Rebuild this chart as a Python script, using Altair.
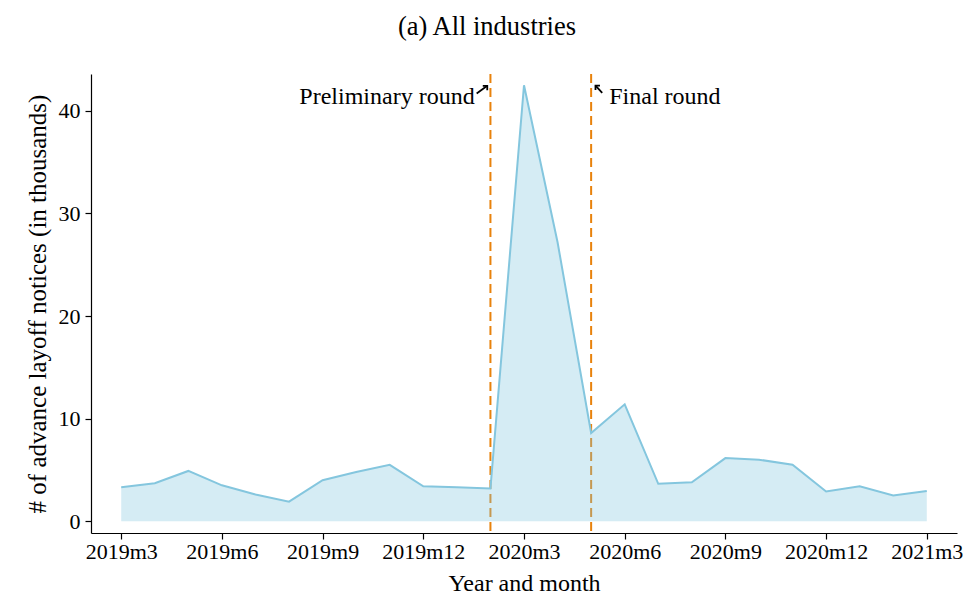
import altair as alt
import pandas as pd

months = ["2019m3", "2019m4", "2019m5", "2019m6", "2019m7", "2019m8", "2019m9",
          "2019m10", "2019m11", "2019m12", "2020m1", "2020m2", "2020m3", "2020m4",
          "2020m5", "2020m6", "2020m7", "2020m8", "2020m9", "2020m10", "2020m11",
          "2020m12", "2021m1", "2021m2", "2021m3"]
notices = [3.3, 3.7, 4.9, 3.5, 2.6, 1.9, 4.0, 4.8, 5.5, 3.4, 3.3, 3.2, 42.5, 27.2,
           8.6, 11.4, 3.65, 3.8, 6.15, 6.0, 5.5, 2.9, 3.4, 2.5, 2.95]
tick_labels = ["2019m3", "2019m6", "2019m9", "2019m12", "2020m3", "2020m6",
               "2020m9", "2020m12", "2021m3"]
y_ticks = [0, 10, 20, 30, 40]
event_months = ["2020m2", "2020m5"]
event_names = ["Preliminary round", "Final round"]
chart_title = "(a) All industries"

FONT = "Liberation Serif"
PLOT_W, PLOT_H = 866, 459
df = pd.DataFrame({"idx": list(range(len(months))), "month": months, "value": notices})
tick_vals = [months.index(m) for m in tick_labels]
label_expr = "[" + ",".join("'%s'" % t for t in tick_labels) + "][round(datum.value/3)]"

x = alt.X("idx:Q", scale=alt.Scale(domain=[-0.9, 24.9], nice=False, zero=False),
          axis=alt.Axis(values=tick_vals, labelExpr=label_expr, title="Year and month",
                        grid=False, labelPadding=2, titlePadding=9, titleFontSize=24,
                        labelFlush=False, labelOverlap=False))
y = alt.Y("value:Q", scale=alt.Scale(domain=[-1.15, 43.6], nice=False, zero=False),
          axis=alt.Axis(values=y_ticks, title="# of advance layoff notices (in thousands)",
                        grid=False, labelPadding=5, titlePadding=8, titleFontSize=25))

ev = pd.DataFrame({"idx": [months.index(m) for m in event_months], "name": event_names})
rules = alt.Chart(ev).mark_rule(color="#e8820c", strokeWidth=2, strokeDash=[9, 5]).encode(
    x=alt.X("idx:Q"))

area = alt.Chart(df).mark_area(color="#7fc4dd", opacity=0.33).encode(x=x, y=y)
line = alt.Chart(df).mark_line(color="#84c6de", strokeWidth=2).encode(x="idx:Q", y="value:Q")

txt = pd.DataFrame({"x": [10.53, 14.54], "y": [41.4, 41.4], "label": event_names})
t_left = alt.Chart(txt.iloc[[0]]).mark_text(font=FONT, fontSize=24, align="right",
                                            baseline="middle", color="black").encode(
    x="x:Q", y="y:Q", text="label:N")
t_right = alt.Chart(txt.iloc[[1]]).mark_text(font=FONT, fontSize=24, align="left",
                                             baseline="middle", color="black").encode(
    x="x:Q", y="y:Q", text="label:N")

arr = pd.DataFrame({"x": [10.59, 14.33], "y": [41.7, 41.75],
                    "x2": [10.905, 14.13], "y2": [42.45, 42.47], "ang": [45, 315]})
arrow_lines = alt.Chart(arr).mark_rule(color="black", strokeWidth=1.8).encode(
    x="x:Q", y="y:Q", x2="x2:Q", y2="y2:Q")
arrow_heads = alt.Chart(arr).mark_point(shape="M-1,1L0,0L1,1", filled=False, color="black",
                                        strokeWidth=1.8, size=40, opacity=1).encode(
    x="x2:Q", y="y2:Q", angle=alt.Angle("ang:Q", scale=None))

title_df = pd.DataFrame({"t": [chart_title]})
title = alt.Chart(title_df).mark_text(font=FONT, fontSize=26.5, align="center",
                                      baseline="alphabetic", color="black").encode(
    x=alt.value(396), y=alt.value(-39), text="t:N")

chart = alt.layer(rules, area, line, arrow_lines, arrow_heads, t_left, t_right, title).properties(
    width=PLOT_W, height=PLOT_H,
    padding={"left": 83, "top": 66, "right": 6, "bottom": 61},
    autosize=alt.AutoSizeParams(type="none"),
).configure_axis(
    labelFont=FONT, titleFont=FONT, labelFontSize=22,
    titleFontWeight="normal", labelColor="black", titleColor="black",
    domainColor="black", tickColor="black", domainWidth=1.2, tickWidth=1.2, tickSize=6,
).configure_view(stroke=None)

chart.save("out.html", embed_options={"renderer": "svg", "actions": False})
